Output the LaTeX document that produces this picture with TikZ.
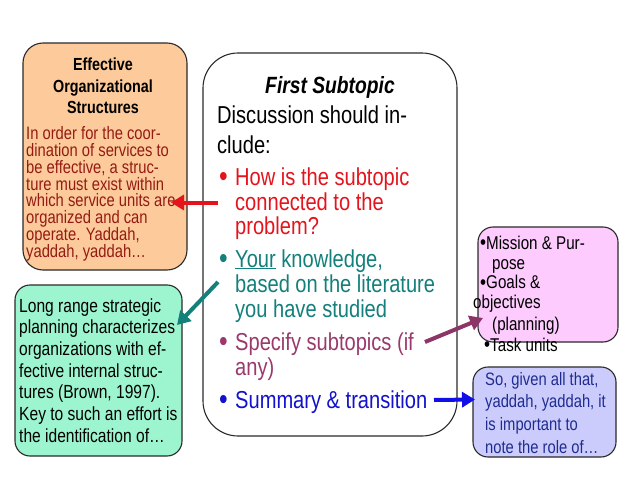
\documentclass[tikz,border=0pt]{standalone}
\usepackage{fontspec}
\setmainfont{Liberation Sans}[FakeStretch=0.82]
\usetikzlibrary{arrows.meta}
\definecolor{orfill}{HTML}{FDCB9B}
\definecolor{grfill}{HTML}{9DF5CF}
\definecolor{pkfill}{HTML}{FDCBFD}
\definecolor{blfill}{HTML}{CCCCFC}
\definecolor{edge}{HTML}{2A2A2A}
\definecolor{ortext}{HTML}{941B14}
\definecolor{cred}{HTML}{E5141C}
\definecolor{cteal}{HTML}{14807C}
\definecolor{cpurp}{HTML}{9A3A6C}
\definecolor{cblue}{HTML}{1212CC}
\definecolor{bltext}{HTML}{1E2C90}
\definecolor{apurp}{HTML}{8E3568}
\definecolor{ablue}{HTML}{1010E6}
\newcommand{\bigbul}{{\fontsize{30}{30}\selectfont\raisebox{-1pt}{•}}}
\newcommand{\pkbul}{{\fontsize{21}{21}\selectfont\raisebox{-0.5pt}{•}}}
\tikzset{
  box/.style={draw=edge, line width=1.1pt, inner sep=0pt},
  ln/.style={anchor=base west, inner sep=0pt},
  lnc/.style={anchor=base, inner sep=0pt},
  arr/.style={line width=4pt, -{Triangle[length=13pt,width=15pt]}},
}
\begin{document}
\begin{tikzpicture}[x=1pt,y=-1pt]
\useasboundingbox[fill=white] (0,0) rectangle (638,479);
% boxes
\node[box, fill=orfill, rounded corners=20pt, minimum width=164pt, minimum height=227pt] (orange) at (105,156.5) {};
\node[box, fill=grfill, rounded corners=15pt, minimum width=167pt, minimum height=171pt] (green) at (98.5,370.5) {};
\node[box, fill=white, rounded corners=35pt, minimum width=254pt, minimum height=383pt] (center) at (330,244.5) {};
\node[box, fill=pkfill, rounded corners=15pt, minimum width=140pt, minimum height=115pt] (pink) at (548,284.5) {};
\node[box, fill=blfill, rounded corners=15pt, minimum width=143pt, minimum height=90pt] (blue) at (544.5,412) {};

% orange box text
\begin{scope}[font=\fontsize{17.5}{18}\selectfont\bfseries]
\node[lnc] (ot1) at (103,70) {Effective};
\node[lnc] (ot2) at (103,92) {Organizational};
\node[lnc] (ot3) at (103,113) {Structures};
\end{scope}
\begin{scope}[font=\fontsize{18}{18}\selectfont, text=ortext]
\node[ln] (ob1) at (26,139) {In order for the coor-};
\node[ln] (ob2) at (26,156) {dination of services to};
\node[ln] (ob3) at (26,173) {be effective, a struc-};
\node[ln] (ob4) at (26,190) {ture must exist within};
\node[ln] (ob5) at (26,206.5) {which service units are};
\node[ln] (ob6) at (26,223) {organized and can};
\node[ln] (ob7) at (26,240) {operate. Yaddah,};
\node[ln] (ob8) at (26,257) {yaddah, yaddah…};
\end{scope}

% green box text
\begin{scope}[font=\fontsize{19}{19}\selectfont]
\node[ln] (g1) at (19,312) {Long range strategic};
\node[ln] (g2) at (19,333.7) {planning characterizes};
\node[ln] (g3) at (19,355.4) {organizations with ef-};
\node[ln] (g4) at (19,377.1) {fective internal struc-};
\node[ln] (g5) at (19,398.8) {tures (Brown, 1997).};
\node[ln] (g6) at (19,420.5) {Key to such an effort is};
\node[ln] (g7) at (19,442.2) {the identification of…};
\end{scope}

% center box text
\node[lnc, font=\fontsize{23.5}{23.5}\selectfont\bfseries\itshape] (title) at (330,93) {First Subtopic};
\begin{scope}[font=\fontsize{24.5}{24.5}\selectfont]
\node[ln] (d1) at (217,123) {Discussion should in-};
\node[ln] (d2) at (217,153) {clude:};
\node[ln, text=cred] (b1) at (219,185) {\bigbul};
\node[ln, text=cred] (r1) at (235,185) {How is the subtopic};
\node[ln, text=cred] (r2) at (235,210) {connected to the};
\node[ln, text=cred] (r3) at (235,234) {problem?};
\node[ln, text=cteal] (b2) at (219,267) {\bigbul};
\node[ln, text=cteal] (t1) at (235,267) {\underline{Your} knowledge,};
\node[ln, text=cteal] (t2) at (235,292) {based on the literature};
\node[ln, text=cteal] (t3) at (235,317) {you have studied};
\node[ln, text=cpurp] (b3) at (219,350) {\bigbul};
\node[ln, text=cpurp] (p1) at (235,350) {Specify subtopics (if};
\node[ln, text=cpurp] (p2) at (235,375) {any)};
\node[ln, text=cblue] (b4) at (219,408) {\bigbul};
\node[ln, text=cblue] (s1) at (235,408) {Summary \& transition};
\end{scope}

% pink box text
\begin{scope}[font=\fontsize{18.5}{18.5}\selectfont]
\node[ln] (k1) at (480,249) {\pkbul Mission \& Pur-};
\node[ln] (k2) at (492,269) {pose};
\node[ln] (k3) at (480,288.5) {\pkbul Goals \&};
\node[ln] (k4) at (473,308.5) {objectives};
\node[ln] (k5) at (492,330) {(planning)};
\node[ln] (k6) at (484,351) {\pkbul Task units};
\end{scope}

% blue box text
\begin{scope}[font=\fontsize{18}{18}\selectfont, text=bltext]
\node[ln] (u1) at (485,385) {So, given all that,};
\node[ln] (u2) at (485,407.7) {yaddah, yaddah, it};
\node[ln] (u3) at (485,430.3) {is important to};
\node[ln] (u4) at (485,453) {note the role of…};
\end{scope}

% arrows
\coordinate (ra) at (218,202.5);
\coordinate (rb) at (171,202.5);
\coordinate (ta) at (218,282);
\coordinate (tb) at (177,325);
\coordinate (pa) at (425,342);
\coordinate (pb) at (483,318);
\coordinate (ua) at (434,400);
\coordinate (ub) at (475,399.5);
\draw[arr, draw=cred, fill=cred] (ra) -- (rb);
\draw[arr, draw=cteal, fill=cteal] (ta) -- (tb);
\draw[arr, draw=apurp, fill=apurp] (pa) -- (pb);
\draw[arr, draw=ablue, fill=ablue] (ua) -- (ub);
\end{tikzpicture}
\end{document}
